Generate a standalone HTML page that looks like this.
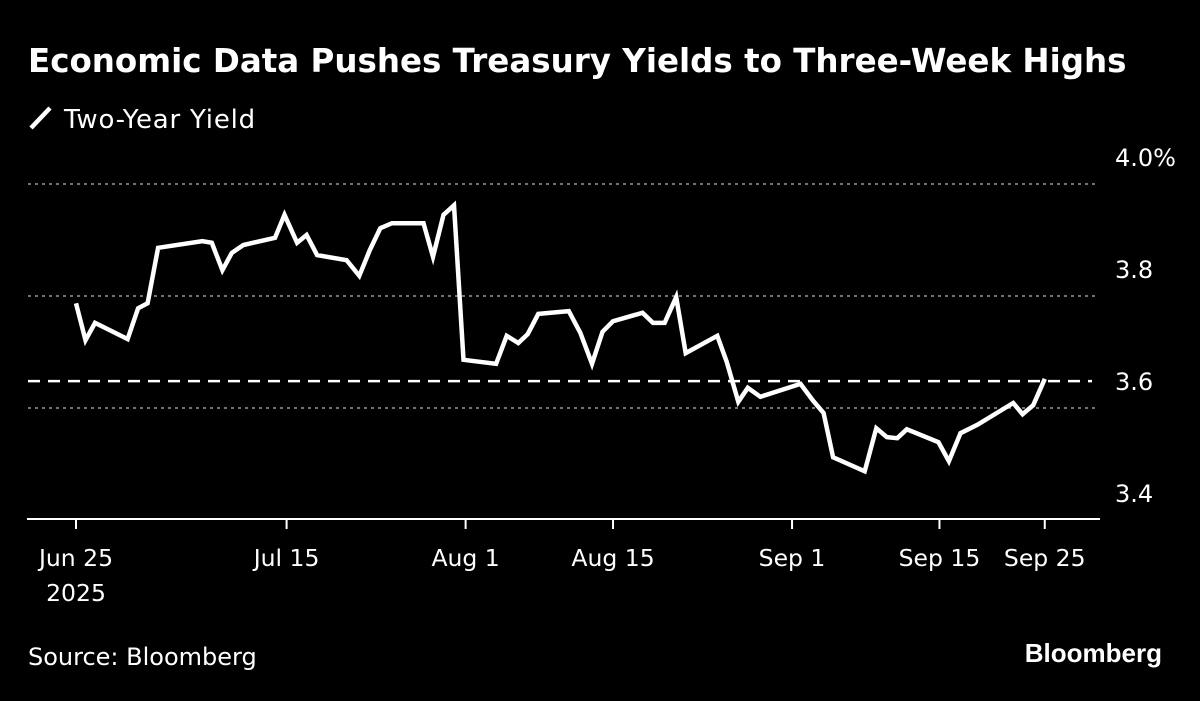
<!DOCTYPE html>
<html><head><meta charset="utf-8"><style>
body{margin:0;background:#000;width:1200px;height:696px;overflow:hidden}
svg text{font-family:"DejaVu Sans","Liberation Sans",sans-serif;fill:#fff}
</style></head><body>
<svg id="chart" width="1200" height="696" viewBox="0 0 1200 696">
<text x="28" y="72" font-size="32.5" font-weight="bold">Economic Data Pushes Treasury Yields to Three-Week Highs</text>
<g>
<line x1="31" y1="128" x2="50" y2="108" stroke="#fff" stroke-width="4.5"/>
<text x="64" y="128" font-size="26" letter-spacing="0.8">Two-Year Yield</text>
</g>
<g id="grid"></g><g id="axes"></g><g id="series"></g>
<text x="28" y="665" font-size="24">Source: Bloomberg</text>
<text x="1162" y="662" font-size="26" font-weight="bold" text-anchor="end" style="font-family:'Liberation Sans',sans-serif">Bloomberg</text>
</svg>
<script>
const days=[0,0.9,1.8,4.9,5.9,6.8,7.8,12.0,12.9,13.9,14.8,15.9,18.9,19.8,21.0,21.9,22.9,25.7,26.9,27.9,28.9,30.0,33.0,33.9,34.9,35.9,36.8,39.9,40.9,42.0,42.9,43.9,46.8,47.9,49.0,50.0,51.0,53.8,54.8,55.9,57.0,57.9,60.9,61.8,62.9,63.8,65.0,68.8,70.0,71.0,71.9,74.9,76.0,77.0,78.0,78.9,81.9,82.9,84.0,85.6,89.0,89.9,90.9,92.0];
const yields=[3.787,3.721,3.752,3.723,3.778,3.787,3.886,3.898,3.895,3.846,3.877,3.891,3.904,3.945,3.895,3.909,3.873,3.864,3.836,3.882,3.921,3.930,3.930,3.870,3.945,3.962,3.686,3.679,3.729,3.716,3.732,3.768,3.773,3.734,3.679,3.736,3.755,3.770,3.752,3.752,3.798,3.698,3.729,3.682,3.611,3.636,3.620,3.643,3.613,3.591,3.512,3.487,3.564,3.548,3.546,3.562,3.539,3.505,3.555,3.570,3.609,3.589,3.605,3.652];
const yTicks=[4.0,3.8,3.6,3.4];
const yTickLabels=["4.0%","3.8","3.6","3.4"];
const xTickDays=[0,20,37,51,68,82,92];
const xTickLabels=["Jun 25","Jul 15","Aug 1","Aug 15","Sep 1","Sep 15","Sep 25"];
const refLevel=3.648;
const NS="http://www.w3.org/2000/svg";
const X=d=>76+d*10.53, Y=v=>184+(4.0-v)*560;
function mk(tag,attrs,parent,txt){const e=document.createElementNS(NS,tag);for(const k in attrs)e.setAttribute(k,attrs[k]);if(txt!==undefined)e.textContent=txt;parent.appendChild(e);return e;}
const grid=document.getElementById('grid'),axes=document.getElementById('axes'),ser=document.getElementById('series');
yTicks.forEach((v,i)=>{
 if(v>3.4){const l=mk('line',{x1:28,x2:1098,y1:Y(v),y2:Y(v),stroke:'#999','stroke-width':1.5,'stroke-dasharray':'3 4'},grid);
 
 }
 const t=mk('text',{x:1115,y:Y(v)-18,'font-size':24},axes,yTickLabels[i]);
 
 
});
const ax=mk('line',{x1:27,x2:1100,y1:519,y2:519,stroke:'#fff','stroke-width':2},axes);


xTickDays.forEach((d,i)=>{
 const tk=mk('line',{x1:X(d),x2:X(d),y1:519,y2:529,stroke:'#fff','stroke-width':2},axes);
 
 
 const t=mk('text',{x:X(d),y:566,'font-size':23.5,'text-anchor':'middle'},axes,xTickLabels[i]);
 
 
});
const yr=mk('text',{x:X(0),y:601,'font-size':23.5,'text-anchor':'middle'},axes,"2025");


const ref=mk('line',{x1:28,x2:1092,y1:Y(refLevel),y2:Y(refLevel),stroke:'#fff','stroke-width':2.5,'stroke-dasharray':'12 8'},ser);


const p=mk('polyline',{points:days.map((d,i)=>X(d).toFixed(1)+','+Y(yields[i]).toFixed(1)).join(' '),fill:'none',stroke:'#fff','stroke-width':4.5,'stroke-linejoin':'miter','stroke-linecap':'butt'},ser);


</script>
</body></html>
